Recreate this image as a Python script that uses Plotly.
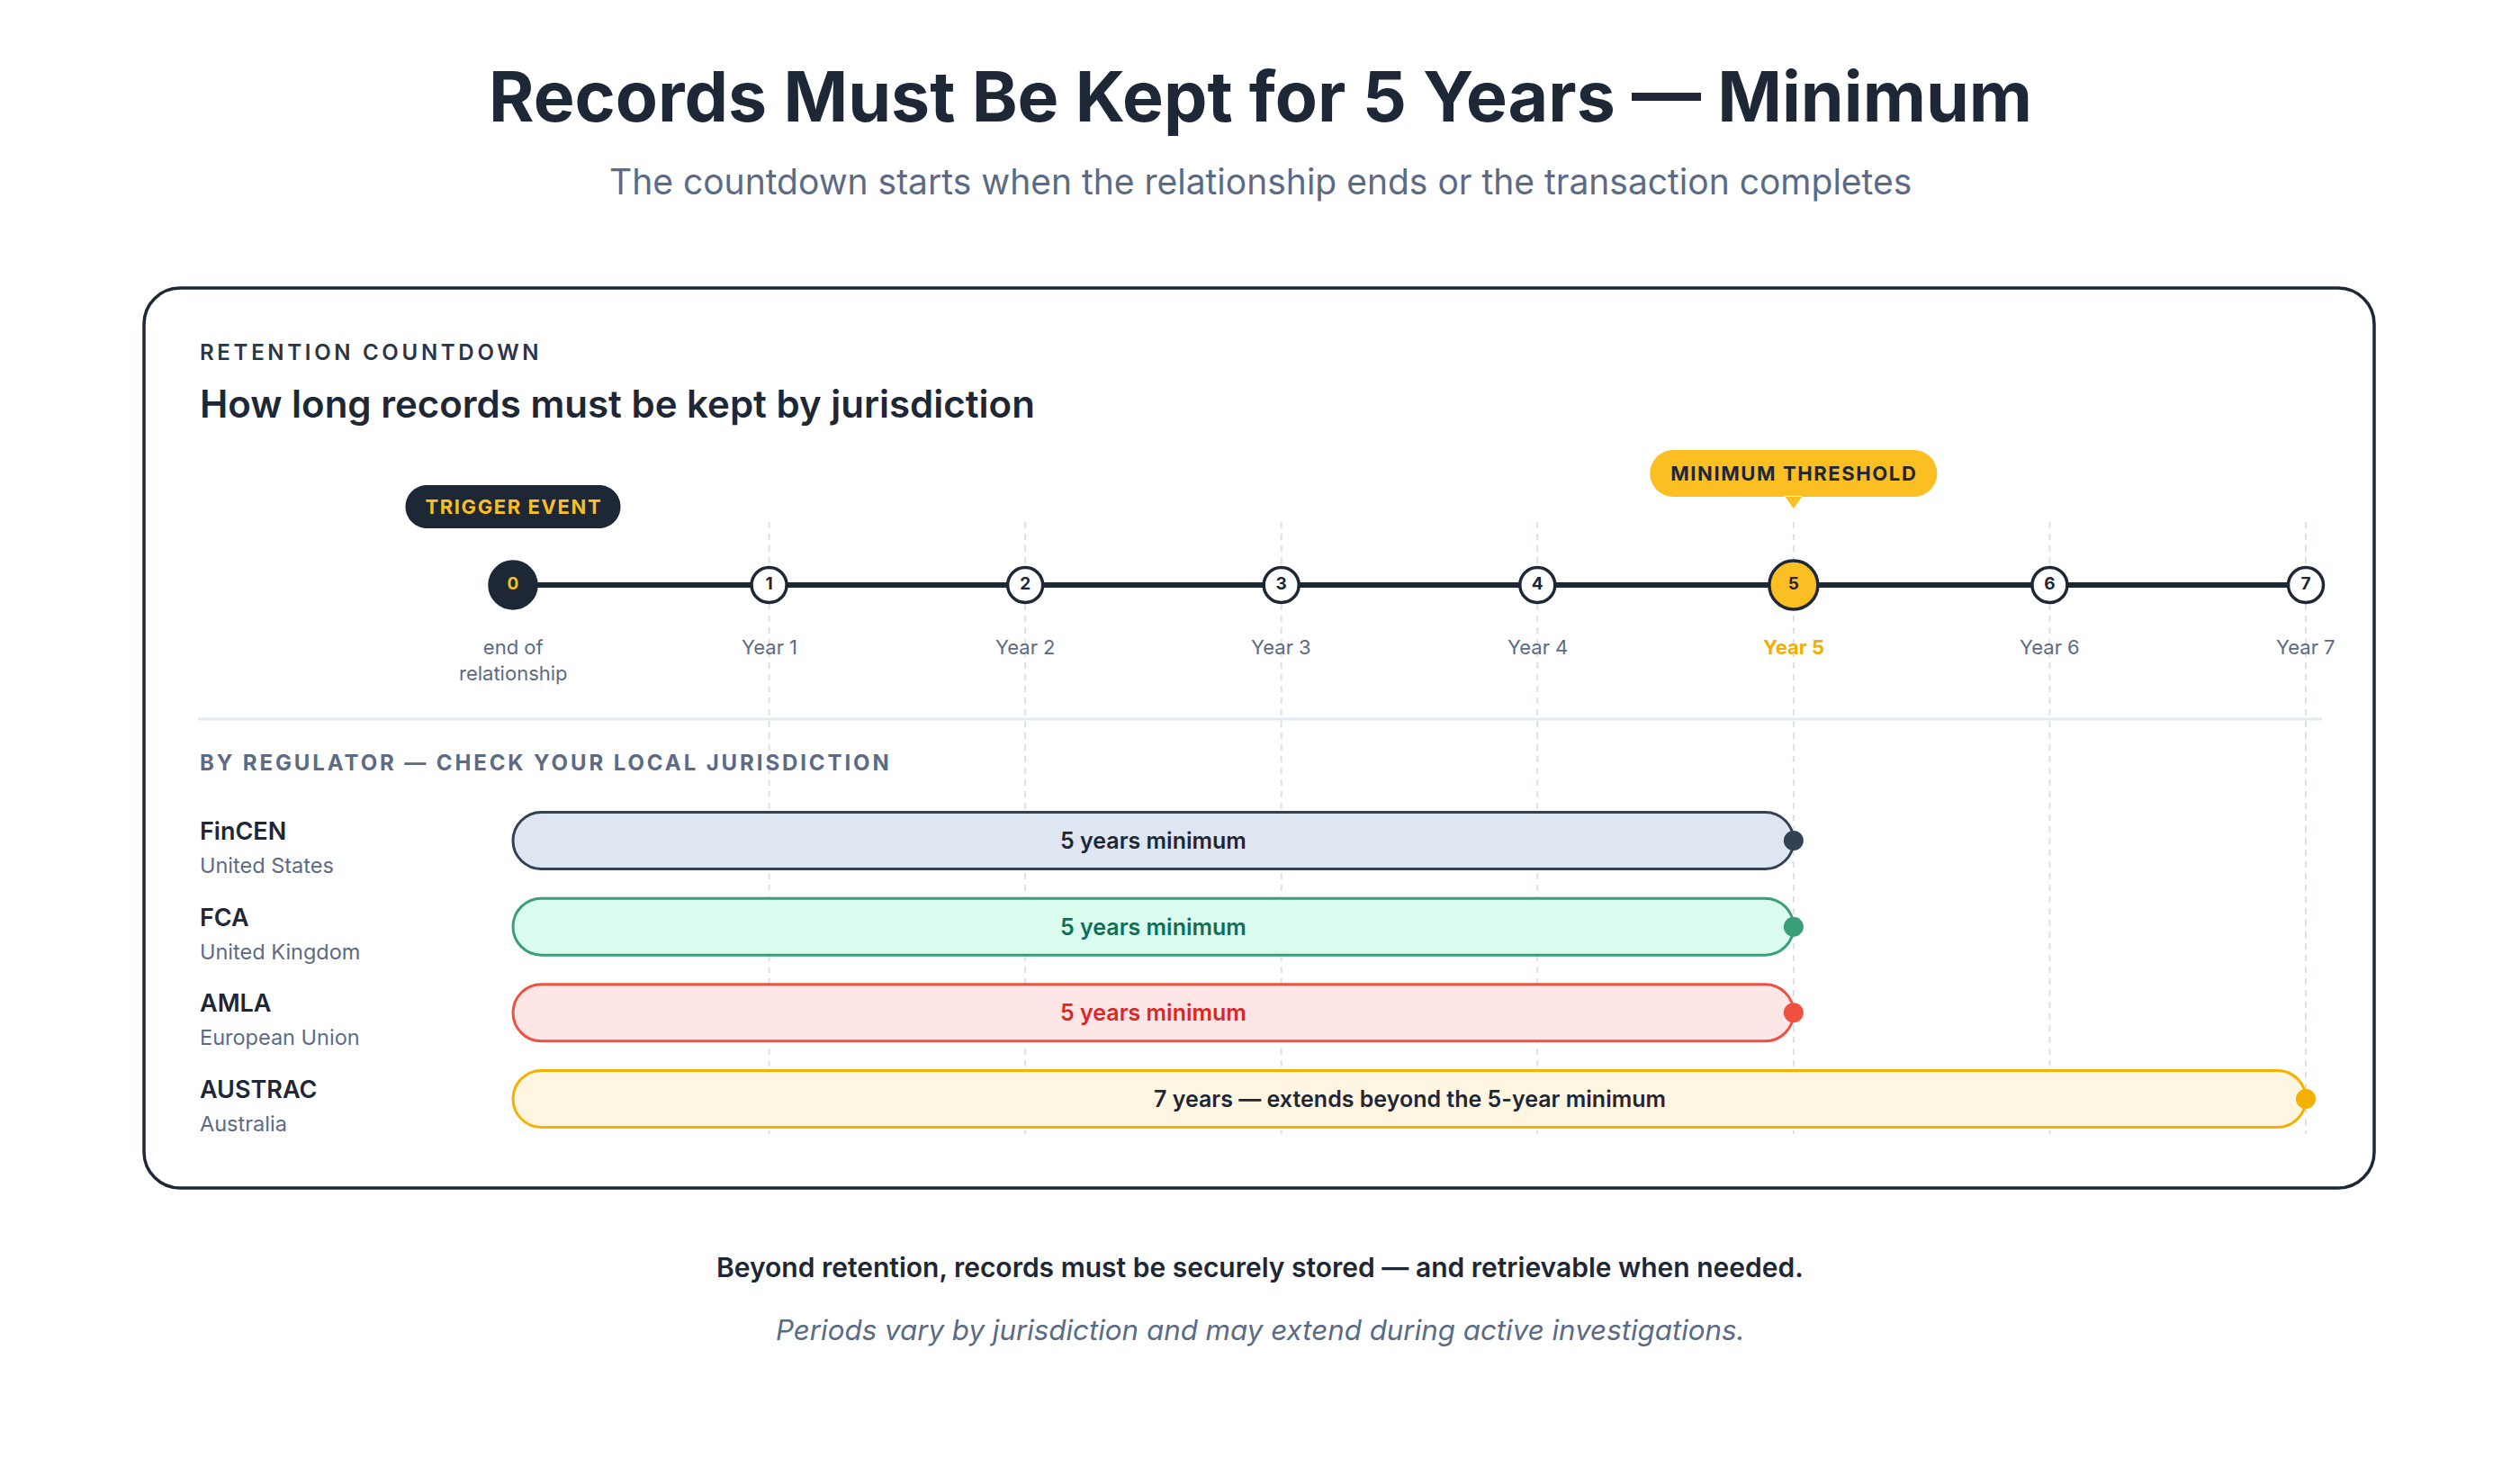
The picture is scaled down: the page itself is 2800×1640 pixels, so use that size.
import plotly.graph_objects as go

# ---------------- data ----------------
years = [0, 1, 2, 3, 4, 5, 6, 7]
year_labels = ["end of<br>relationship", "Year 1", "Year 2", "Year 3",
               "Year 4", "Year 5", "Year 6", "Year 7"]
threshold_year = 5
trigger_year = 0

regulators = ["FinCEN", "FCA", "AMLA", "AUSTRAC"]
regions = ["United States", "United Kingdom", "European Union", "Australia"]
retention_years = [5, 5, 5, 7]
bar_labels = ["5 years minimum", "5 years minimum", "5 years minimum",
              "7 years — extends beyond the 5-year minimum"]

# ---------------- styles ----------------
W, H = 2800, 1640
FONT = "Inter"
DARK = "#1e2736"
SLATE = "#5b6b85"
YELLOW = "#fbbf24"
YEAR5 = "#f0b000"
GRID = "#d9e1ec"
bar_fill = ["#dee6f1", "#d9fcee", "#fee6e6", "#fff6e1"]
bar_line = ["#334155", "#3a9e79", "#f0503f", "#f5b000"]
bar_text = [DARK, "#0f6e56", "#dc2626", DARK]

X0_PX, X1_PX = 570, 2562          # pixel positions of first / last year
TL_PX = 650                        # timeline pixel row
ROW0_PX, ROW_STEP = 934, 95.65     # bar rows

def py(p):  # pixel y -> paper y
    return 1 - p / H

def px(p):  # pixel x -> paper x
    return p / W

xmin, xmax = min(years), max(years)
x_per_px = (xmax - xmin) / (X1_PX - X0_PX)
x_range = [xmin - X0_PX * x_per_px, xmax + (W - X1_PX) * x_per_px]
n_rows = len(regulators)
row_top_px = ROW0_PX - 0.5 * ROW_STEP
row_bot_px = ROW0_PX + (n_rows - 0.5) * ROW_STEP
y_per_px = 1 / ROW_STEP
TL_HALF = 180  # half-height (px) of the timeline subplot

fig = go.Figure()

# timeline line
fig.add_trace(go.Scatter(x=[xmin, xmax], y=[0, 0], mode="lines",
                         line=dict(color=DARK, width=6), hoverinfo="skip",
                         xaxis="x", yaxis="y"))

# timeline nodes
node_size = [52 if y == trigger_year else (54 if y == threshold_year else 39) for y in years]
node_fill = [DARK if y == trigger_year else (YELLOW if y == threshold_year else "white") for y in years]
node_txt_col = [YELLOW if y == trigger_year else DARK for y in years]
fig.add_trace(go.Scatter(
    x=years, y=[0] * len(years), mode="markers+text",
    text=[str(y) for y in years], textposition="middle center",
    textfont=dict(family=FONT, size=19, color=node_txt_col, weight=700),
    marker=dict(size=node_size, color=node_fill, opacity=1,
                line=dict(color=DARK, width=3.5)),
    hoverinfo="skip", cliponaxis=False, xaxis="x", yaxis="y"))

# bar end dots
fig.add_trace(go.Scatter(
    x=retention_years, y=list(range(n_rows)), mode="markers",
    marker=dict(size=22, color=bar_line, opacity=1, line=dict(width=0)),
    hoverinfo="skip", cliponaxis=False, xaxis="x", yaxis="y2"))

shapes = []

# card
r = 40
L, R, T, B = 160, 2638, 320, 1320
k = 0.5523
card = (f"M {px(L+r)},{py(T)} L {px(R-r)},{py(T)} "
        f"C {px(R-r+k*r)},{py(T)} {px(R)},{py(T+r-k*r)} {px(R)},{py(T+r)} "
        f"L {px(R)},{py(B-r)} "
        f"C {px(R)},{py(B-r+k*r)} {px(R-r+k*r)},{py(B)} {px(R-r)},{py(B)} "
        f"L {px(L+r)},{py(B)} "
        f"C {px(L+r-k*r)},{py(B)} {px(L)},{py(B-r+k*r)} {px(L)},{py(B-r)} "
        f"L {px(L)},{py(T+r)} "
        f"C {px(L)},{py(T+r-k*r)} {px(L+r-k*r)},{py(T)} {px(L+r)},{py(T)} Z")
shapes.append(dict(type="path", xref="paper", yref="paper", path=card,
                   line=dict(color=DARK, width=3.5), fillcolor="white", layer="below"))

# separator
shapes.append(dict(type="line", xref="paper", yref="paper", x0=px(220), x1=px(2580),
                   y0=py(799), y1=py(799), line=dict(color="#e3e9f1", width=3), layer="below"))

# dashed year guides
for y in years[1:]:
    shapes.append(dict(type="line", xref="x", yref="paper", x0=y, x1=y,
                       y0=py(580), y1=py(1260),
                       line=dict(color=GRID, width=2, dash="7px,6px"), layer="below"))

# pills for bars (data coordinates)
def pill(x0, x1, yc, rx, hy):
    return (f"M {x0+rx},{yc-hy} L {x1-rx},{yc-hy} "
            f"C {x1-rx+k*rx},{yc-hy} {x1},{yc-k*hy} {x1},{yc} "
            f"C {x1},{yc+k*hy} {x1-rx+k*rx},{yc+hy} {x1-rx},{yc+hy} "
            f"L {x0+rx},{yc+hy} "
            f"C {x0+rx-k*rx},{yc+hy} {x0},{yc+k*hy} {x0},{yc} "
            f"C {x0},{yc-k*hy} {x0+rx-k*rx},{yc-hy} {x0+rx},{yc-hy} Z")

rad_px = 31.5
for i, v in enumerate(retention_years):
    shapes.append(dict(type="path", xref="x", yref="y2",
                       path=pill(xmin, v, i, rad_px * x_per_px, rad_px * y_per_px),
                       fillcolor=bar_fill[i], line=dict(color=bar_line[i], width=3),
                       layer="below"))

# callout pills (pixel-sized, anchored on timeline nodes)
def pix_pill(x0, x1, y0, y1):
    rr = (y1 - y0) / 2
    yc = (y0 + y1) / 2
    return pill(x0, x1, yc, rr, rr)

shapes.append(dict(type="path", xref="x", yref="y", xsizemode="pixel", ysizemode="pixel",
                   xanchor=trigger_year, yanchor=0,
                   path=pix_pill(-119.5, 119.5, 63, 111),
                   fillcolor=DARK, line=dict(width=0), layer="below"))
shapes.append(dict(type="path", xref="x", yref="y", xsizemode="pixel", ysizemode="pixel",
                   xanchor=threshold_year, yanchor=0,
                   path=pix_pill(-159.5, 159.5, 98, 150) + " M -10,99 L 0,85 L 10,99 Z",
                   fillcolor=YELLOW, line=dict(width=0), layer="below"))

ann = []
def text(x, y, s, size, color, weight=400, xanchor="center", italic=False, **kw):
    ann.append(dict(x=x, y=y, text=s, showarrow=False, xanchor=xanchor, yanchor="middle",
                    font=dict(family=FONT, size=size, color=color, weight=weight,
                              style="italic" if italic else "normal"), **kw))

# titles
text(0.5, py(107), "Records Must Be Kept for 5 Years — Minimum", 77, DARK, 700,
     xref="paper", yref="paper")
text(0.5, py(201), "The countdown starts when the relationship ends or the transaction completes",
     39, SLATE, 400, xref="paper", yref="paper")
text(px(220), py(391), "RETENTION COUNTDOWN", 24, "#2a3547", 600, xanchor="left",
     xref="paper", yref="paper")
text(px(220), py(448), "How long records must be kept by jurisdiction", 42, DARK, 600,
     xanchor="left", xref="paper", yref="paper")
text(px(220), py(847), "BY REGULATOR — CHECK YOUR LOCAL JURISDICTION", 24, SLATE, 700,
     xanchor="left", xref="paper", yref="paper")
text(0.5, py(1408), "Beyond retention, records must be securely stored — and retrievable when needed.",
     30, DARK, 600, xref="paper", yref="paper")
text(0.5, py(1478), "Periods vary by jurisdiction and may extend during active investigations.",
     31.3, SLATE, 400, italic=True, xref="paper", yref="paper")

# callout texts
text(trigger_year, 0, "TRIGGER EVENT", 22, YELLOW, 700, xref="x", yref="y", yshift=87)
text(threshold_year, 0, "MINIMUM THRESHOLD", 22, DARK, 700, xref="x", yref="y", yshift=124)

# year labels
for y, lab in zip(years, year_labels):
    is_thr = (y == threshold_year)
    two = "<br>" in lab
    text(y, 0, lab, 22, YEAR5 if is_thr else SLATE, 700 if is_thr else 400,
         xref="x", yref="y", yshift=-83.5 if two else -68.5)

# regulator labels and bar labels
for i in range(n_rows):
    text(px(220), i, regulators[i], 27, DARK, 600, xanchor="left",
         xref="paper", yref="y2", yshift=10.5)
    text(px(220), i, regions[i], 23.5, SLATE, 400, xanchor="left",
         xref="paper", yref="y2", yshift=-27.5)
    text((xmin + retention_years[i]) / 2, i, bar_labels[i], 25, bar_text[i], 600,
         xref="x", yref="y2")

fig.update_layout(
    width=W, height=H, margin=dict(l=0, r=0, t=0, b=0),
    paper_bgcolor="white", plot_bgcolor="rgba(0,0,0,0)", showlegend=False,
    font=dict(family=FONT),
    xaxis=dict(range=x_range, domain=[0, 1], visible=False, fixedrange=True),
    yaxis=dict(range=[-TL_HALF / 100, TL_HALF / 100],
               domain=[py(TL_PX + TL_HALF), py(TL_PX - TL_HALF)], visible=False,
               fixedrange=True, anchor="x"),
    yaxis2=dict(range=[n_rows - 0.5, -0.5], domain=[py(row_bot_px), py(row_top_px)],
                visible=False, fixedrange=True, anchor="x"),
    shapes=shapes, annotations=ann,
)

# letter-spacing for the small-caps labels (left-anchored ones keep their left edge)
post = """
document.body.style.margin = '0';
document.body.style.overflow = 'hidden';
var ls = {};
ls['RETENTION COUNTDOWN'] = [3.7, 'left'];
ls['BY REGULATOR \\u2014 CHECK YOUR LOCAL JURISDICTION'] = [2.9, 'left'];
ls['TRIGGER EVENT'] = [1.6, 'center'];
ls['MINIMUM THRESHOLD'] = [1.6, 'center'];
document.querySelectorAll('text.annotation-text').forEach(function(t) {
  var v = ls[t.textContent];
  if (!v) { return; }
  var b0 = t.getBBox();
  t.style.letterSpacing = v[0] + 'px';
  var b1 = t.getBBox();
  var dx = (v[1] === 'left') ? (b0.x - b1.x) : ((b0.x + b0.width / 2) - (b1.x + b1.width / 2) + v[0] / 2);
  var x0 = parseFloat(t.getAttribute('x')) || 0;
  t.setAttribute('x', x0 + dx);
});
"""
fig.write_html("out.html", post_script=post, config={"displayModeBar": False})
